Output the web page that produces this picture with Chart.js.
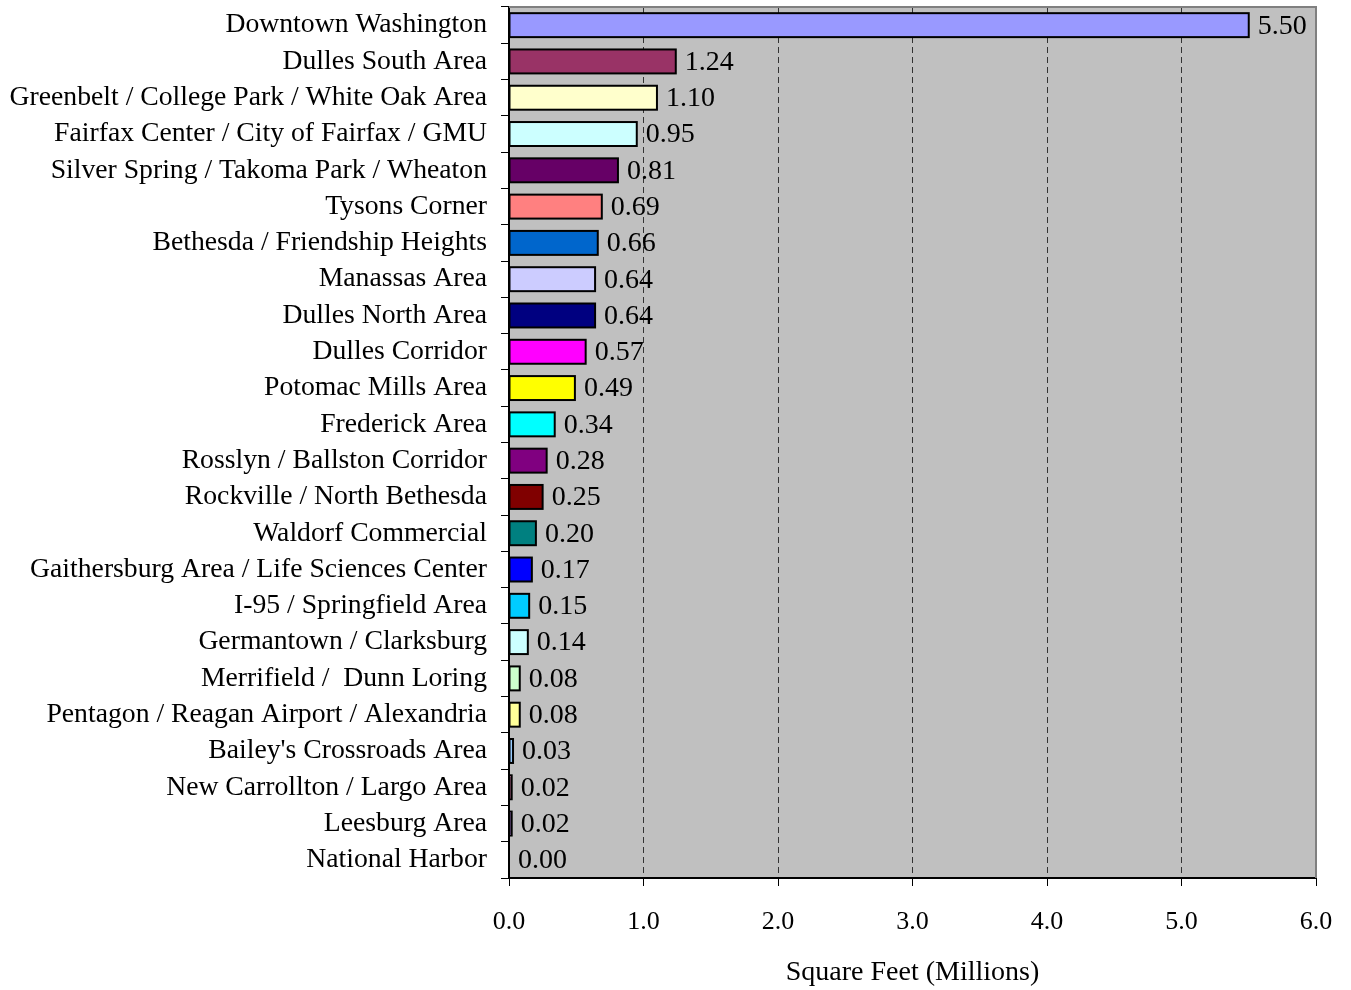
<!DOCTYPE html>
<html>
<head>
<meta charset="utf-8">
<script src="https://cdn.jsdelivr.net/npm/chart.js@4"></script>
<style>
  html, body { margin: 0; padding: 0; background: #ffffff; }
  #wrap { width: 1351px; height: 990px; position: relative; }
</style>
</head>
<body>
<div id="wrap"><canvas id="chart"></canvas></div>
<script>
// Submarkets and square footage (millions)
const submarkets = [
  "Downtown Washington",
  "Dulles South Area",
  "Greenbelt / College Park / White Oak Area",
  "Fairfax Center / City of Fairfax / GMU",
  "Silver Spring / Takoma Park / Wheaton",
  "Tysons Corner",
  "Bethesda / Friendship Heights",
  "Manassas Area",
  "Dulles North Area",
  "Dulles Corridor",
  "Potomac Mills Area",
  "Frederick Area",
  "Rosslyn / Ballston Corridor",
  "Rockville / North Bethesda",
  "Waldorf Commercial",
  "Gaithersburg Area / Life Sciences Center",
  "I-95 / Springfield Area",
  "Germantown / Clarksburg",
  "Merrifield /  Dunn Loring",
  "Pentagon / Reagan Airport / Alexandria",
  "Bailey's Crossroads Area",
  "New Carrollton / Largo Area",
  "Leesburg Area",
  "National Harbor"
];
const squareFeet = [5.50, 1.24, 1.10, 0.95, 0.81, 0.69, 0.66, 0.64, 0.64, 0.57, 0.49, 0.34,
                    0.28, 0.25, 0.20, 0.17, 0.15, 0.14, 0.08, 0.08, 0.03, 0.02, 0.02, 0.00];
const barColors = ["#9999FF", "#993366", "#FFFFCC", "#CCFFFF", "#660066", "#FF8080",
                   "#0066CC", "#CCCCFF", "#000080", "#FF00FF", "#FFFF00", "#00FFFF",
                   "#800080", "#800000", "#008080", "#0000FF", "#00CCFF", "#CCFFFF",
                   "#CCFFCC", "#FFFF99", "#99CCFF", "#FF99CC", "#CC99FF", "#FFCC99"];
const xTicks = [0, 1, 2, 3, 4, 5, 6];
const xTitle = "Square Feet (Millions)";

const FONT = "'Liberation Serif', 'Times New Roman', serif";

// Gray plot background plus the gray frame on the top and right sides
const plotFrame = {
  id: "plotFrame",
  beforeDraw(chart) {
    const { ctx, chartArea: a } = chart;
    ctx.save();
    ctx.fillStyle = "#C0C0C0";
    ctx.fillRect(a.left, a.top, a.right - a.left, a.bottom - a.top);
    ctx.restore();
  },
  afterDatasetsDraw(chart) {
    const { ctx, chartArea: a } = chart;
    ctx.save();
    ctx.strokeStyle = "#808080";
    ctx.lineWidth = 2;
    ctx.beginPath();
    ctx.moveTo(a.left, a.top);
    ctx.lineTo(a.right, a.top);
    ctx.lineTo(a.right, a.bottom);
    ctx.stroke();
    ctx.restore();
  }
};

// Black outline stroked centred on each bar's edges, so thin bars keep their fill
const barOutline = {
  id: "barOutline",
  afterDatasetsDraw(chart) {
    const { ctx } = chart;
    const meta = chart.getDatasetMeta(0);
    ctx.save();
    ctx.strokeStyle = "#000000";
    ctx.lineWidth = 2;
    meta.data.forEach((bar, i) => {
      if (!squareFeet[i]) return;
      const p = bar.getProps(["x", "y", "base", "height"], true);
      ctx.strokeRect(p.base, p.y - p.height / 2, p.x - p.base, p.height);
    });
    ctx.restore();
  }
};

// Value labels printed just past the end of each bar
const valueLabels = {
  id: "valueLabels",
  afterDatasetsDraw(chart) {
    const { ctx } = chart;
    const meta = chart.getDatasetMeta(0);
    ctx.save();
    ctx.font = "28px " + FONT;
    ctx.fillStyle = "#000000";
    ctx.textAlign = "left";
    ctx.textBaseline = "middle";
    meta.data.forEach((bar, i) => {
      ctx.fillText(squareFeet[i].toFixed(2), bar.x + 9, bar.y + 1);
    });
    ctx.restore();
  }
};

new Chart(document.getElementById("chart"), {
  type: "bar",
  data: {
    labels: submarkets,
    datasets: [{
      data: squareFeet,
      backgroundColor: barColors,
      borderWidth: 0,
      barPercentage: 0.66,
      categoryPercentage: 1.0
    }]
  },
  options: {
    indexAxis: "y",
    responsive: true,
    maintainAspectRatio: false,
    animation: false,
    layout: { padding: { top: 7, right: 35, left: 0, bottom: 0 } },
    plugins: {
      legend: { display: false },
      tooltip: { enabled: false }
    },
    scales: {
      x: {
        type: "linear",
        min: 0,
        max: 6,
        afterBuildTicks(scale) { scale.ticks = xTicks.map(v => ({ value: v })); },
        afterFit(scale) {
          scale.height = 112;
          scale.paddingLeft = 0;
          scale.paddingRight = 0;
        },
        border: { display: true, color: "#000000", width: 2, dash: [6, 4] },
        grid: {
          display: true,
          drawOnChartArea: true,
          drawTicks: true,
          tickLength: 8,
          color: ctx => (ctx.tick && (ctx.tick.value === 0 || ctx.tick.value === 6)) ? "rgba(0,0,0,0)" : "#333333",
          tickColor: "#000000",
          lineWidth: 1,
          tickBorderDash: []
        },
        ticks: {
          color: "#000000",
          font: { family: FONT, size: 26 },
          padding: 21,
          maxRotation: 0,
          callback: v => Number(v).toFixed(1)
        },
        title: {
          display: true,
          text: xTitle,
          color: "#000000",
          font: { family: FONT, size: 28 },
          padding: { top: 8, bottom: 1 }
        }
      },
      y: {
        afterFit(scale) {
          scale.width = 509;
          scale.paddingTop = 0;
          scale.paddingBottom = 0;
        },
        border: { display: true, color: "#000000", width: 2 },
        grid: {
          display: true,
          offset: true,
          drawOnChartArea: false,
          drawTicks: true,
          tickLength: 8,
          tickColor: "#000000"
        },
        ticks: {
          color: "#000000",
          font: { family: FONT, size: 27.7 },
          padding: 14,
          autoSkip: false
        }
      }
    }
  },
  plugins: [plotFrame, barOutline, valueLabels]
});
</script>
</body>
</html>
